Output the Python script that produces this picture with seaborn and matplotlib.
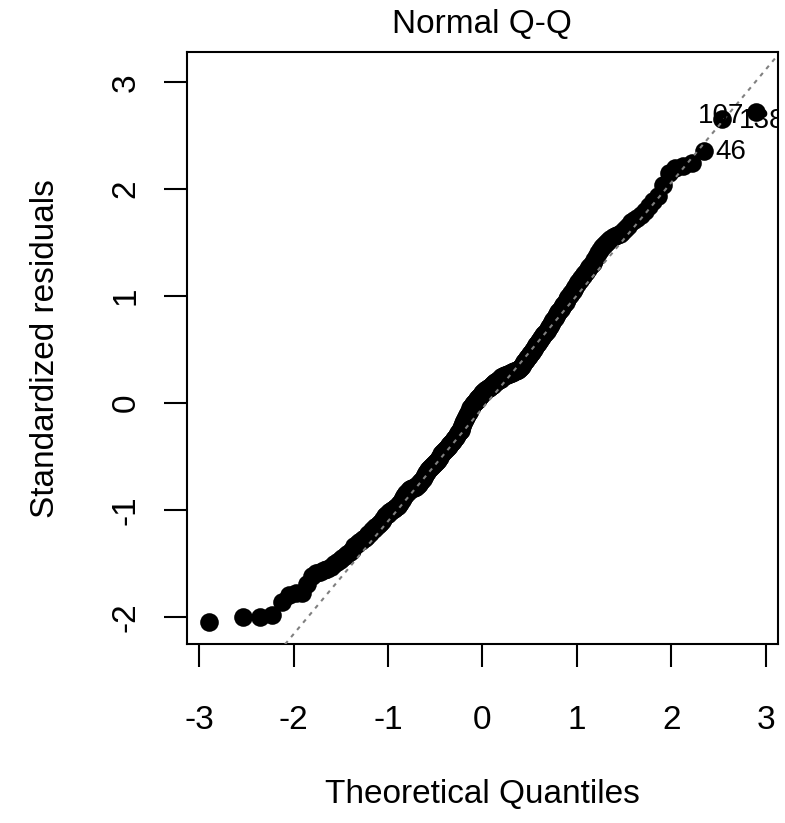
import statistics
import numpy as np
import pandas as pd
import matplotlib
matplotlib.use("Agg")
import matplotlib.pyplot as plt
import seaborn as sns

# Sorted standardized residuals of the fitted model (n = 268)
std_resid = [
    -2.05, -2.00, -2.00, -1.98, -1.86, -1.79, -1.78, -1.78, -1.69, -1.62,
    -1.59, -1.58, -1.56, -1.55, -1.53, -1.50, -1.49, -1.47, -1.45, -1.43,
    -1.41, -1.39, -1.37, -1.34, -1.32, -1.30, -1.29, -1.27, -1.26, -1.24,
    -1.22, -1.21, -1.19, -1.18, -1.16, -1.15, -1.13, -1.12, -1.10, -1.08,
    -1.06, -1.05, -1.04, -1.02, -1.01, -1.00, -0.99, -0.98, -0.97, -0.96,
    -0.94, -0.93, -0.91, -0.89, -0.87, -0.86, -0.84, -0.83, -0.81, -0.80,
    -0.80, -0.79, -0.79, -0.78, -0.78, -0.77, -0.765, -0.76, -0.74, -0.73,
    -0.71, -0.69, -0.67, -0.65, -0.64, -0.63, -0.62, -0.61, -0.60, -0.59,
    -0.58, -0.57, -0.56, -0.55, -0.54, -0.53, -0.51, -0.50, -0.48, -0.47,
    -0.46, -0.45, -0.44, -0.43, -0.42, -0.41, -0.40, -0.39, -0.38, -0.37,
    -0.36, -0.35, -0.34, -0.33, -0.32, -0.30, -0.28, -0.27, -0.26, -0.25,
    -0.23, -0.21, -0.19, -0.17, -0.15, -0.13, -0.11, -0.09, -0.08, -0.06,
    -0.05, -0.04, -0.03, -0.01, 0.00, 0.01, 0.02, 0.03, 0.04, 0.05,
    0.06, 0.07, 0.08, 0.09, 0.10, 0.10, 0.11, 0.12, 0.12, 0.13,
    0.14, 0.14, 0.15, 0.16, 0.17, 0.17, 0.18, 0.19, 0.20, 0.20,
    0.21, 0.22, 0.22, 0.23, 0.23, 0.24, 0.24, 0.25, 0.25, 0.26,
    0.26, 0.26, 0.27, 0.27, 0.28, 0.28, 0.28, 0.29, 0.29, 0.30,
    0.30, 0.30, 0.31, 0.31, 0.32, 0.33, 0.34, 0.35, 0.37, 0.38,
    0.39, 0.40, 0.42, 0.43, 0.44, 0.46, 0.47, 0.48, 0.50, 0.51,
    0.52, 0.54, 0.55, 0.56, 0.58, 0.59, 0.61, 0.62, 0.64, 0.65,
    0.66, 0.67, 0.69, 0.71, 0.72, 0.74, 0.76, 0.78, 0.80, 0.81,
    0.83, 0.85, 0.86, 0.88, 0.90, 0.92, 0.93, 0.95, 0.97, 0.99,
    1.01, 1.03, 1.05, 1.07, 1.09, 1.11, 1.13, 1.15, 1.17, 1.19,
    1.21, 1.23, 1.25, 1.27, 1.29, 1.31, 1.34, 1.37, 1.40, 1.43,
    1.46, 1.48, 1.50, 1.52, 1.53, 1.55, 1.56, 1.57, 1.58, 1.60,
    1.63, 1.66, 1.69, 1.71, 1.73, 1.76, 1.80, 1.84, 1.89, 1.94,
    2.04, 2.15, 2.20, 2.22, 2.245, 2.36, 2.66, 2.72,
]

# Observation ids of the three largest residuals, labelled on the plot
id_labels = ["46", "107", "138"]
id_offsets = [(19, -1.2), (-0.7, 2.2), (4.1, -6.3)]  # in points

x_ticks = [-3, -2, -1, 0, 1, 2, 3]
y_ticks = [-2, -1, 0, 1, 2, 3]

title = "Normal Q-Q"
x_label = "Theoretical Quantiles"
y_label = "Standardized residuals"

# Theoretical quantiles from plotting positions (i - 0.5) / n
n = len(std_resid)
nd = statistics.NormalDist()
theo = [nd.inv_cdf((i + 0.5) / n) for i in range(n)]
df = pd.DataFrame({"theoretical": theo, "resid": std_resid})

sns.set_style("ticks")
plt.rcParams["font.family"] = ["Liberation Sans", "DejaVu Sans"]
plt.rcParams["text.color"] = "black"
plt.rcParams["axes.labelcolor"] = "black"
plt.rcParams["xtick.color"] = "black"
plt.rcParams["ytick.color"] = "black"
plt.rcParams["axes.edgecolor"] = "black"

fig = plt.figure(figsize=(7.85, 8.23), dpi=100)
ax = fig.add_axes([186.7 / 785, 1 - 644.3 / 823, (778 - 186.7) / 785, (644.3 - 52) / 823])

sns.scatterplot(data=df, x="theoretical", y="resid", ax=ax, color="black",
                s=180, linewidth=0, edgecolor="black", legend=False, zorder=2)

# Reference line through the first and third quartiles
q = np.quantile(std_resid, [0.25, 0.75])
zq = np.array([nd.inv_cdf(0.25), nd.inv_cdf(0.75)])
slope = (q[1] - q[0]) / (zq[1] - zq[0])
intercept = q[0] - slope * zq[0]
ax.axline((0, intercept), slope=slope, color="#808080", lw=1.5,
          dashes=(2, 2.5), zorder=3)

# Axis ranges padded 4% (with extra headroom for the id labels)
xr = [min(theo), max(theo)]
yr = [min(std_resid), max(std_resid)]
yr[1] += 0.075 * (yr[1] - yr[0])
xp = 0.04 * (xr[1] - xr[0])
yp = 0.04 * (yr[1] - yr[0])
ax.set_xlim(xr[0] - xp, xr[1] + xp)
ax.set_ylim(yr[0] - yp, yr[1] + yp)

for lab, off, xv, yv in zip(id_labels, id_offsets, theo[-3:], std_resid[-3:]):
    ax.annotate(lab, (xv, yv), xytext=off, textcoords="offset points",
                ha="center", va="center", fontsize=20, color="black",
                annotation_clip=False, clip_on=True)

ax.set_xticks(x_ticks)
ax.set_yticks(y_ticks)
ax.set_xticklabels([str(t) for t in x_ticks])
ax.set_yticklabels([str(t) for t in y_ticks], rotation=90, va="center")
ax.tick_params(axis="both", direction="out", length=16.5, width=1.5,
               color="black", labelsize=24, labelcolor="black")
ax.tick_params(axis="x", pad=27)
ax.tick_params(axis="y", pad=16)
for sp in ax.spines.values():
    sp.set_visible(True)
    sp.set_linewidth(1.5)
    sp.set_color("black")

ax.set_xlabel(x_label, fontsize=24, labelpad=31, color="black")
ax.set_ylabel(y_label, fontsize=24, labelpad=36, color="black")
ax.set_title(title, fontsize=24, pad=14, color="black")
ax.set_facecolor("white")
fig.patch.set_facecolor("white")

fig.savefig("out.png", dpi=100)
